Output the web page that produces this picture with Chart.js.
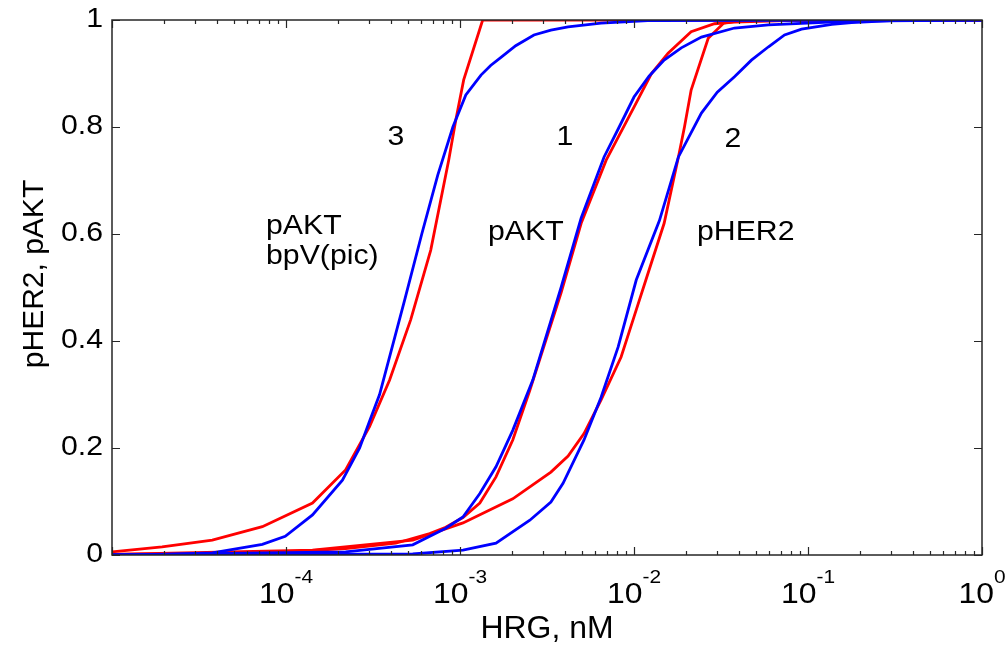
<!DOCTYPE html>
<html>
<head>
<meta charset="utf-8">
<script src="https://cdn.jsdelivr.net/npm/chart.js@4.4.1/dist/chart.umd.min.js"></script>
<style>
  body { margin: 0; background: #fff; }
  #wrap { width: 1008px; height: 648px; }
</style>
</head>
<body>
<div id="wrap"><canvas id="doseChart" width="1008" height="648"></canvas></div>
<script>
// x = HRG concentration (nM), y = normalised pHER2 / pAKT
var xMin = 1e-5, xMax = 1;
var yTicks = [0, 0.2, 0.4, 0.6, 0.8, 1];
var yTickLabels = ["0", "0.2", "0.4", "0.6", "0.8", "1"];
var xTickExps = [-4, -3, -2, -1, 0];
var xTickLabels = ["-4", "-3", "-2", "-1", "0"];

// curve 3: pAKT with bpV(pic)
var curve3RedX = [1e-5, 1.94e-5, 3.77e-5, 7.31e-5, 1.42e-4, 2.20e-4, 3.02e-4, 3.94e-4, 5.21e-4, 6.79e-4, 8.61e-4, 9.46e-4, 1.05e-3, 1.35e-3, 1];
var curve3RedY = [0.006, 0.015, 0.028, 0.053, 0.097, 0.159, 0.24, 0.327, 0.44, 0.57, 0.738, 0.813, 0.888, 1.0, 1.0];
var curve3BlueX = [1e-5, 2e-5, 3.77e-5, 7.31e-5, 9.9e-5, 1.42e-4, 2.11e-4, 2.65e-4, 3.02e-4, 3.45e-4, 4.81e-4, 6.03e-4, 7.45e-4, 9.10e-4, 1.08e-3, 1.32e-3, 1.50e-3, 1.72e-3, 2.09e-3, 2.66e-3, 3.33e-3, 4.18e-3, 6.47e-3, 1.2e-2, 1];
var curve3BlueY = [0.0, 0.001, 0.004, 0.02, 0.035, 0.075, 0.14, 0.2, 0.25, 0.30, 0.477, 0.6, 0.71, 0.8, 0.86, 0.897, 0.915, 0.93, 0.952, 0.972, 0.981, 0.987, 0.994, 0.999, 1.0];

// curve 1: pAKT
var curve1RedX = [1e-5, 9.16e-5, 2.20e-4, 4.27e-4, 6.70e-4, 8.28e-4, 1.04e-3, 1.30e-3, 1.61e-3, 2.01e-3, 2.52e-3, 3.81e-3, 4.97e-3, 6.92e-3, 1.00e-2, 1.26e-2, 1.57e-2, 2.13e-2, 2.90e-2, 3.78e-2, 9.18e-2, 1];
var curve1RedY = [0.001, 0.005, 0.012, 0.022, 0.04, 0.052, 0.07, 0.097, 0.146, 0.215, 0.308, 0.49, 0.62, 0.738, 0.837, 0.9, 0.938, 0.978, 0.993, 0.996, 1.0, 1.0];
var curve1BlueX = [1e-5, 2.20e-4, 5.35e-4, 8.28e-4, 1.04e-3, 1.30e-3, 1.61e-3, 2.01e-3, 2.62e-3, 3.81e-3, 4.97e-3, 6.73e-3, 8.22e-3, 1.00e-2, 1.22e-2, 1.49e-2, 1.87e-2, 2.44e-2, 3.78e-2, 5.93e-2, 0.178, 1];
var curve1BlueY = [0.0, 0.006, 0.019, 0.05, 0.071, 0.115, 0.165, 0.233, 0.327, 0.5, 0.63, 0.744, 0.80, 0.856, 0.895, 0.925, 0.948, 0.968, 0.985, 0.991, 0.998, 1.0];

// curve 2: pHER2
var curve2RedX = [1e-5, 1.42e-4, 5.35e-4, 1.04e-3, 2.01e-3, 3.33e-3, 4.18e-3, 5.16e-3, 6.47e-3, 8.43e-3, 1.00e-2, 1.17e-2, 1.49e-2, 1.80e-2, 1.95e-2, 2.13e-2, 2.67e-2, 3.27e-2, 4.2e-2, 1];
var curve2RedY = [0.001, 0.009, 0.028, 0.06, 0.105, 0.155, 0.185, 0.227, 0.29, 0.37, 0.445, 0.514, 0.62, 0.744, 0.8, 0.869, 0.966, 0.994, 1.0, 1.0];
var curve2BlueX = [1e-5, 5.35e-4, 1.04e-3, 1.61e-3, 2.52e-3, 3.33e-3, 3.91e-3, 5.16e-3, 6.47e-3, 8.11e-3, 1.03e-2, 1.4e-2, 1.80e-2, 2.44e-2, 3.01e-2, 3.78e-2, 4.73e-2, 5.93e-2, 7.33e-2, 9.18e-2, 0.137, 0.178, 0.346, 1];
var curve2BlueY = [0.0, 0.002, 0.009, 0.022, 0.065, 0.099, 0.134, 0.215, 0.295, 0.389, 0.514, 0.625, 0.744, 0.826, 0.865, 0.894, 0.925, 0.95, 0.972, 0.983, 0.992, 0.995, 1.0, 1.0];

var FONT = '"Liberation Sans", Arial, sans-serif';

function toPoints(xs, ys) {
  var pts = [];
  for (var i = 0; i < xs.length; i++) pts.push({ x: xs[i], y: ys[i] });
  return pts;
}

function lineSet(label, xs, ys, color) {
  return {
    label: label,
    data: toPoints(xs, ys),
    showLine: true,
    borderColor: color,
    backgroundColor: color,
    borderWidth: 2.8,
    pointRadius: 0,
    tension: 0,
    fill: false
  };
}

// text with a slight horizontal stretch, like the original figure
function stretchText(ctx, str, x, y, size, sx, align) {
  ctx.save();
  ctx.font = size + "px " + FONT;
  var w = ctx.measureText(str).width * sx;
  var left = x;
  if (align === "center") left = x - w / 2;
  else if (align === "right") left = x - w;
  ctx.translate(left, y);
  ctx.scale(sx, 1);
  ctx.textAlign = "left";
  ctx.fillText(str, 0, 0);
  ctx.restore();
  return w;
}

var axesPlugin = {
  id: "matlabAxes",
  afterDatasetsDraw: function(chart) {
    var ctx = chart.ctx;
    var area = chart.chartArea;
    var xs = chart.scales.x, ys = chart.scales.y;

    ctx.save();
    ctx.strokeStyle = "#262626";
    ctx.lineWidth = 1.5;
    ctx.strokeRect(area.left, area.top, area.right - area.left, area.bottom - area.top);

    // x ticks (decades + minor), both edges, pointing inward
    ctx.beginPath();
    for (var e = -5; e <= 0; e++) {
      for (var m = 1; m <= 9; m++) {
        var v = m * Math.pow(10, e);
        if (v < xMin || v > xMax) continue;
        var px = Math.round(xs.getPixelForValue(v)) + 0.5;
        var len = (m === 1) ? 8 : 4;
        ctx.moveTo(px, area.bottom); ctx.lineTo(px, area.bottom - len);
        ctx.moveTo(px, area.top); ctx.lineTo(px, area.top + len);
      }
    }
    // y ticks, both edges
    for (var i = 0; i < yTicks.length; i++) {
      var py = Math.round(ys.getPixelForValue(yTicks[i])) + 0.5;
      ctx.moveTo(area.left, py); ctx.lineTo(area.left + 8, py);
      ctx.moveTo(area.right, py); ctx.lineTo(area.right - 8, py);
    }
    ctx.lineWidth = 1.2;
    ctx.stroke();

    ctx.fillStyle = "#000";
    ctx.textBaseline = "middle";
    for (var j = 0; j < yTicks.length; j++) {
      stretchText(ctx, yTickLabels[j], area.left - 9, ys.getPixelForValue(yTicks[j]), 27, 1.12, "right");
    }

    // x tick labels 10^n
    ctx.textBaseline = "alphabetic";
    for (var k = 0; k < xTickExps.length; k++) {
      var cx = xs.getPixelForValue(Math.pow(10, xTickExps[k]));
      ctx.font = "29px " + FONT;
      var wb = ctx.measureText("10").width * 1.1;
      ctx.font = "19px " + FONT;
      var we = ctx.measureText(xTickLabels[k]).width * 1.1;
      var x0 = cx - (wb + we) / 2;
      stretchText(ctx, "10", x0, 603, 29, 1.1, "left");
      stretchText(ctx, xTickLabels[k], x0 + wb, 583, 19, 1.1, "left");
    }

    // axis titles
    stretchText(ctx, "HRG, nM", (area.left + area.right) / 2, 638, 31, 1.03, "center");
    ctx.save();
    ctx.translate(43, 274);
    ctx.rotate(-Math.PI / 2);
    stretchText(ctx, "pHER2, pAKT", 0, 0, 30, 1.0, "center");
    ctx.restore();

    // curve annotations
    stretchText(ctx, "3", 396, 145, 27, 1.12, "center");
    stretchText(ctx, "1", 565, 145, 27, 1.12, "center");
    stretchText(ctx, "2", 733, 147, 27, 1.12, "center");
    stretchText(ctx, "pAKT", 266, 234, 27, 1.12, "left");
    stretchText(ctx, "bpV(pic)", 266, 264, 27, 1.12, "left");
    stretchText(ctx, "pAKT", 488, 240, 27, 1.12, "left");
    stretchText(ctx, "pHER2", 697, 240, 27, 1.12, "left");
    ctx.restore();
  }
};

var doseChart = new Chart(document.getElementById("doseChart"), {
  type: "scatter",
  data: {
    datasets: [
      lineSet("pAKT bpV(pic) model", curve3BlueX, curve3BlueY, "#0000ff"),
      lineSet("pAKT model", curve1BlueX, curve1BlueY, "#0000ff"),
      lineSet("pHER2 model", curve2BlueX, curve2BlueY, "#0000ff"),
      lineSet("pAKT bpV(pic) fit", curve3RedX, curve3RedY, "#ff0000"),
      lineSet("pAKT fit", curve1RedX, curve1RedY, "#ff0000"),
      lineSet("pHER2 fit", curve2RedX, curve2RedY, "#ff0000")
    ]
  },
  options: {
    responsive: false,
    animation: false,
    layout: { padding: { left: 112, right: 26, top: 20, bottom: 93 } },
    plugins: { legend: { display: false }, tooltip: { enabled: false } },
    scales: {
      x: { type: "logarithmic", min: xMin, max: xMax, display: false },
      y: { type: "linear", min: 0, max: 1, display: false }
    }
  },
  plugins: [axesPlugin]
});
</script>
</body>
</html>
